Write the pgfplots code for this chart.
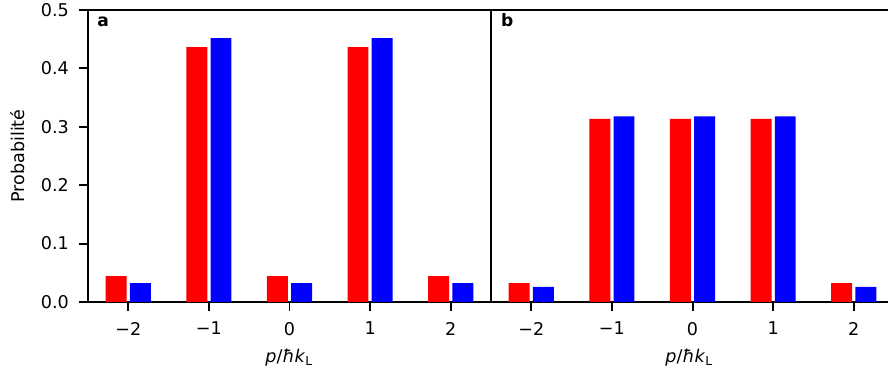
\documentclass[border=0pt]{standalone}
\usepackage{fontspec}
\setmainfont{DejaVu Sans}
\usepackage{pgfplots}
\pgfplotsset{compat=1.18}
\newcommand{\fsz}{\fontsize{7.2}{8.6}\selectfont}
\newcommand{\fpl}{\fontsize{7.0}{8.4}\selectfont}
\pgfplotsset{
  base/.style={
    scale only axis, height=119.72pt,
    ymin=0, ymax=0.5, xmin=-2.5,
    axis line style={line width=0.8pt, black},
    tick style={line width=0.8pt, black},
    major tick length=3.5pt, tick align=outside,
    xtick={-2,-1,0,1,2}, xticklabels={−2,−1,0,1,2},
    xtick pos=left, ytick pos=left,
    tick label style={font=\fsz},
    xticklabel style={yshift=-1.2pt},
    yticklabel style={xshift=-0.8pt},
    xlabel={\textit{p}/\textit{ħk}\textsubscript{L}},
    every axis x label/.style={at={(axis description cs:0.5,-0.19)}, anchor=center, font=\fsz},
    clip=false,
  },
  rbar/.style={ybar, bar width=0.26, bar shift=-0.15, fill=red, draw=none},
  bbar/.style={ybar, bar width=0.26, bar shift=0.15, fill=blue, draw=none},
}
\begin{document}
\begin{tikzpicture}
\path[use as bounding box] (0,0) rectangle (364.08pt,154.57pt);
\begin{axis}[base, at={(36.08pt,30.75pt)}, anchor=south west, width=165.23pt, xmax=2.5,
  ytick={0,0.1,0.2,0.3,0.4,0.5}, yticklabels={0.0,0.1,0.2,0.3,0.4,0.5},
  ylabel={Probabilité},
  every axis y label/.style={at={(axis description cs:-0.174,0.5)}, rotate=90, anchor=center, font=\fsz}]
\addplot[rbar] coordinates {(-2,0.0445) (-1,0.4366) (0,0.0445) (1,0.4366) (2,0.0445)};
\addplot[bbar] coordinates {(-2,0.0325) (-1,0.452) (0,0.0325) (1,0.452) (2,0.0325)};
\node[anchor=base west, inner sep=0pt, font=\fpl\bfseries] at (rel axis cs:0.022,0.942) {a};
\end{axis}
\begin{axis}[base, at={(201.31pt,30.75pt)}, anchor=south west, width=162.77pt, xmax=2.425,
  axis x line*=box, axis y line*=left, ytick=\empty]
\addplot[rbar] coordinates {(-2,0.0325) (-1,0.3134) (0,0.3134) (1,0.3134) (2,0.0325)};
\addplot[bbar] coordinates {(-2,0.0257) (-1,0.318) (0,0.318) (1,0.318) (2,0.0257)};
\node[anchor=base west, inner sep=0pt, font=\fpl\bfseries] at (rel axis cs:0.024,0.942) {b};
\end{axis}
\end{tikzpicture}
\end{document}
